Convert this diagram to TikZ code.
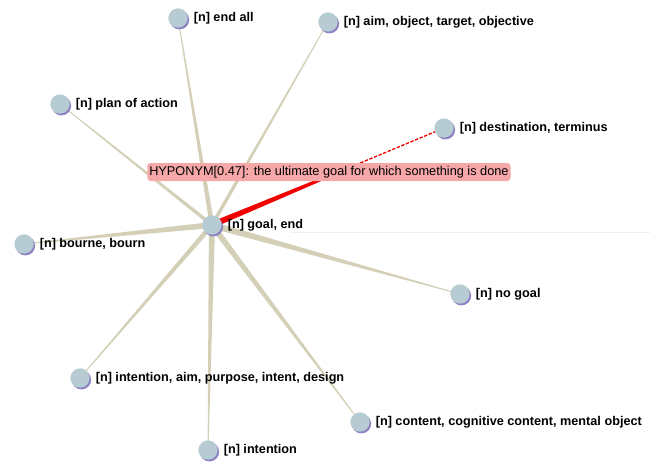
\documentclass[tikz,border=0pt]{standalone}
\usepackage{fontspec}
\setmainfont{Liberation Sans}
\usetikzlibrary{calc,shadows}
\definecolor{edgecol}{RGB}{212,208,184}
\definecolor{nodefill}{RGB}{182,204,210}
\definecolor{nodeshade}{RGB}{140,128,196}
\definecolor{tipfill}{RGB}{246,168,168}
\definecolor{hotedge}{RGB}{240,0,0}
\tikzset{
  word/.style={circle, fill=nodefill, minimum size=14.5pt, inner sep=0,
    drop shadow={shadow xshift=1.1pt, shadow yshift=-1.3pt, fill=nodeshade, opacity=1},
    label={[font=\bfseries\fontsize{9.5}{10}\selectfont, label distance=4.2pt, inner sep=0]right:#1}},
  tip/.style={fill=tipfill, rounded corners=2.5pt, inner xsep=1.5pt, inner ysep=0,
    minimum height=13.5pt, font=\fontsize{9.55}{10}\selectfont, anchor=west}
}
% tapered link: wide at the hub, narrow at the leaf
\newcommand{\taper}[4][edgecol]{%
  \fill[#1] ($(#2)!#4!90:(#3)$) -- ($(#3)!0.3pt!-90:(#2)$)
    -- ($(#3)!0.3pt!90:(#2)$) -- ($(#2)!#4!-90:(#3)$) -- cycle;}
\begin{document}
\begin{tikzpicture}[x=0.75pt, y=-0.75pt]
\useasboundingbox (0,0) rectangle (650,461);
\fill[white] (0,0) rectangle (650,461);
\draw[black!6, line width=0.6pt] (290,232) -- (650,232);

\coordinate (hub) at (212,225);
\coordinate (p1) at (178,18);
\coordinate (p2) at (328,22);
\coordinate (p3) at (60,104);
\coordinate (p4) at (444,128);
\coordinate (p5) at (24,244);
\coordinate (p6) at (460,294);
\coordinate (p7) at (80,378);
\coordinate (p8) at (360,422);
\coordinate (p9) at (208,450);

\taper{hub}{p1}{1.8pt}
\taper{hub}{p2}{1.4pt}
\taper{hub}{p3}{1.4pt}
\taper{hub}{p5}{2.3pt}
\taper{hub}{p6}{2.5pt}
\taper{hub}{p7}{1.9pt}
\taper{hub}{p8}{2.3pt}
\taper{hub}{p9}{2.3pt}

% highlighted link to the destination synset
\coordinate (mid) at ($(hub)!0.62!(p4)$);
\fill[hotedge] ($(hub)!2.3pt!90:(p4)$) -- ($(mid)!0.8pt!-90:(hub)$)
  -- ($(mid)!0.8pt!90:(hub)$) -- ($(hub)!2.3pt!-90:(p4)$) -- cycle;
\draw[hotedge, line width=1pt, dash pattern=on 2.5pt off 1.2pt] (mid) -- (p4);

\node[word={[n] {end all}}] (n1) at (p1) {};
\node[word={[n] {aim, object, target, objective}}] (n2) at (p2) {};
\node[word={[n] {plan of action}}] (n3) at (p3) {};
\node[word={[n] {destination, terminus}}] (n4) at (p4) {};
\node[word={[n] {bourne, bourn}}] (n5) at (p5) {};
\node[word={[n] {no goal}}] (n6) at (p6) {};
\node[word={[n] {intention, aim, purpose, intent, design}}] (n7) at (p7) {};
\node[word={[n] {content, cognitive content, mental object}}] (n8) at (p8) {};
\node[word={[n] {intention}}] (n9) at (p9) {};
\node[word={[n] {goal, end}}] (n0) at (hub) {};

\node[tip] (hint) at (147,172) {HYPONYM[0.47]: the ultimate goal for which something is done};
\end{tikzpicture}
\end{document}
